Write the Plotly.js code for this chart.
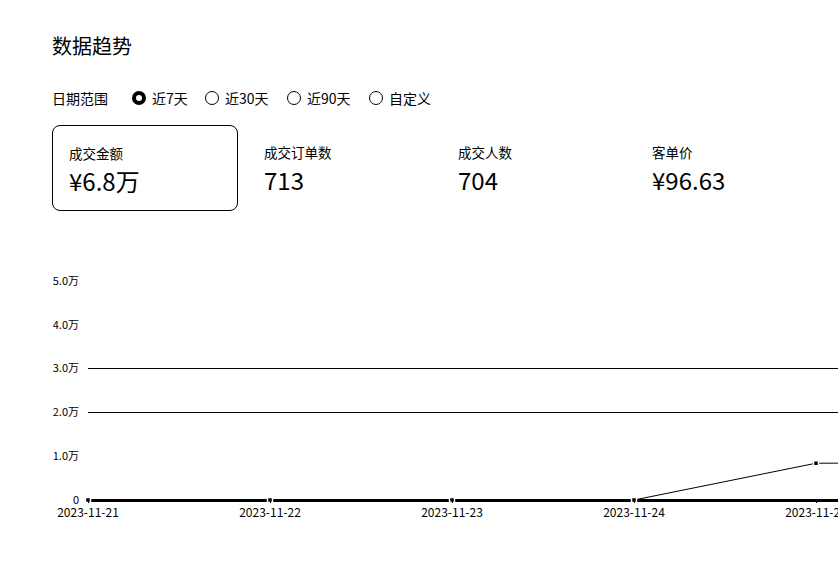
<!DOCTYPE html>
<html>
<head>
<meta charset="utf-8">
<script src="https://cdn.plot.ly/plotly-3.0.1.min.js"></script>
<style>
  html, body { margin:0; padding:0; background:#fff; overflow:hidden; width:838px; height:566px; }
  body { font-family: "Noto Sans CJK SC", "Noto Sans", sans-serif; color:#000; position:relative; }
  .title { position:absolute; left:52px; top:32px; font-size:20px; line-height:28px; }
  .range { position:absolute; left:52px; top:88px; font-size:14px; line-height:20px; }
  .radio { position:absolute; top:90px; font-size:14px; line-height:16px; display:flex; align-items:center; }
  .dot { width:14px; height:14px; border:1px solid #000; border-radius:50%; box-sizing:border-box; margin-right:6px; background:#fff; }
  .dot.on { border:4px solid #000; }
  .card { position:absolute; top:125px; width:186px; height:86px; box-sizing:border-box; border-radius:8px; }
  .card.sel { border:1px solid #000; }
  .card .lab { position:absolute; left:16px; top:18px; font-size:13.5px; line-height:18px; }
  .card .val { position:absolute; left:16px; top:39px; font-size:24px; line-height:32px; }
  #chart { position:absolute; left:0; top:260px; width:1230px; height:280px; }
</style>
</head>
<body>
<div class="title">数据趋势</div>
<div class="range">日期范围</div>
<div class="radio" style="left:132px"><span class="dot on"></span>近7天</div>
<div class="radio" style="left:205px"><span class="dot"></span>近30天</div>
<div class="radio" style="left:287px"><span class="dot"></span>近90天</div>
<div class="radio" style="left:369px"><span class="dot"></span>自定义</div>

<div class="card sel" style="left:52px"><div class="lab">成交金额</div><div class="val">¥6.8万</div></div>
<div class="card" style="left:248px"><div class="lab">成交订单数</div><div class="val">713</div></div>
<div class="card" style="left:442px"><div class="lab">成交人数</div><div class="val">704</div></div>
<div class="card" style="left:636px"><div class="lab">客单价</div><div class="val">¥96.63</div></div>

<div id="chart"></div>
<script>
const dates = ['2023-11-21','2023-11-22','2023-11-23','2023-11-24','2023-11-25','2023-11-26','2023-11-27'];
const amounts = [0, 0, 0, 0, 8400, 8500, 45000];
const yTickVals = [0, 10000, 20000, 30000, 40000, 50000];
const yTickText = ['0', '1.0万', '2.0万', '3.0万', '4.0万', '5.0万'];
const gridVals = [20000, 30000];

const font = {family: '"Noto Sans CJK SC", "Noto Sans", sans-serif', size: 11, color: '#000'};
const xfont = {family: '"Noto Sans CJK SC", "Noto Sans", sans-serif', size: 12, color: '#000'};

Plotly.newPlot('chart', [{
  x: dates, y: amounts, type: 'scatter', mode: 'lines+markers',
  line: {color: '#000', width: 1},
  marker: {color: '#000', size: 5, symbol: 'square', line: {color: '#fff', width: 1.5}},
  cliponaxis: false, hoverinfo: 'skip'
}, {
  x: [dates[0]], y: [null], yaxis: 'y2', type: 'scatter', mode: 'lines', showlegend: false, hoverinfo: 'skip'
}], {
  width: 1230, height: 280,
  margin: {l: 88, r: 50, t: 21, b: 40},
  paper_bgcolor: '#fff', plot_bgcolor: 'rgba(0,0,0,0)',
  showlegend: false, font: font,
  xaxis: {
    type: 'date', range: [dates[0], dates[dates.length-1]],
    tickvals: dates, ticktext: dates, tickfont: xfont,
    showgrid: false, zeroline: false, showline: false,
    ticks: 'outside', ticklen: 2, tickcolor: '#000', tickwidth: 1
  },
  yaxis: {
    range: [0, 50000], tickvals: yTickVals, ticktext: yTickText, tickfont: font,
    showgrid: false, zeroline: true, zerolinecolor: '#000', zerolinewidth: 3,
    showline: false, ticks: '', ticklabelstandoff: 8
  },
  yaxis2: {
    overlaying: 'y', range: [0, 50000], tickvals: gridVals, showticklabels: false,
    showgrid: true, gridcolor: '#000', gridwidth: 1, zeroline: false, ticks: ''
  }
}, {displayModeBar: false, staticPlot: true});
</script>
</body>
</html>
